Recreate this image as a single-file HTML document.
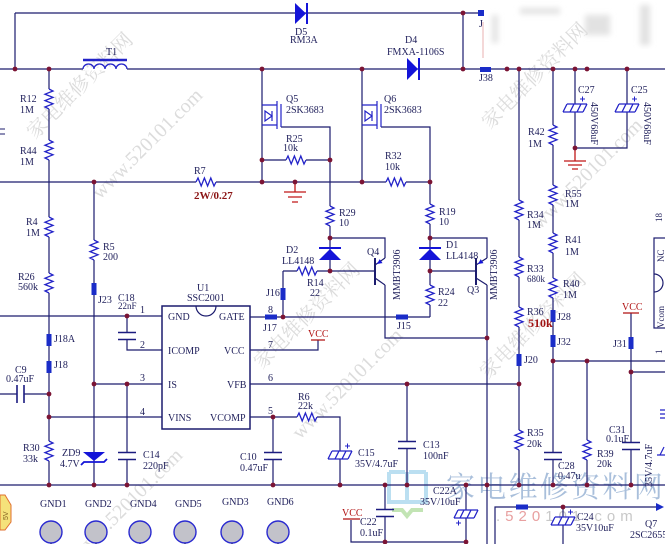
<!DOCTYPE html>
<html><head><meta charset="utf-8"><style>
html,body{margin:0;padding:0;background:#fff;}
svg{display:block}
.w{stroke:#1c1c6e;stroke-width:1.2;fill:none}
.t{font-family:"Liberation Serif",serif;font-size:10px;fill:#1e1e5a}
.r{font-family:"Liberation Serif",serif;font-size:10px;fill:#b01010}
.wm{font-family:"Liberation Serif","Noto Serif CJK SC",serif;font-size:20px;fill:#dcdcdc}
</style></head><body>
<svg width="665" height="544" viewBox="0 0 665 544" xmlns="http://www.w3.org/2000/svg">
<defs>
<g id="rv"><path d="M0,0V20" stroke="#fff" stroke-width="4"/><path d="M0,0l4,2l-8,3.2l8,3.2l-8,3.2l8,3.2l-8,3.2l4,2" fill="none" stroke="#2323c8" stroke-width="1.3"/></g>
<g id="rh"><path d="M0,0H20" stroke="#fff" stroke-width="4"/><path d="M0,0l2,-4l3.2,8l3.2,-8l3.2,8l3.2,-8l3.2,8l2,-4" fill="none" stroke="#2323c8" stroke-width="1.3"/></g>
<g id="cv"><path d="M0,-3.5V3.5" stroke="#fff" stroke-width="4"/><path d="M-9,-3.5H9M-9,3.5H9" stroke="#1c1c80" stroke-width="1.6"/></g>
<g id="ch"><path d="M-3.5,0H3.5" stroke="#fff" stroke-width="4"/><path d="M-3.5,-9V9M3.5,-9V9" stroke="#1c1c80" stroke-width="1.6"/></g>
<g id="ce"><path d="M0,-4V4" stroke="#fff" stroke-width="5"/><path d="M-8,-4H12M-12,4H8M-12,4L-8,-4M-5,4L-1,-4M2,4L6,-4M8,4L12,-4" stroke="#2323c8" stroke-width="1.3" fill="none"/><path d="M5,-9H10M7.5,-11.5V-6.5" stroke="#2323c8" stroke-width="1"/></g>
<rect id="jv" x="-2.5" y="0" width="5" height="12" fill="#1a2cc8"/>
<rect id="jh" x="0" y="-2.5" width="12" height="5" fill="#1a2cc8"/>
<circle id="d" r="2.4" fill="#7b1434"/>
<filter id="bl"><feGaussianBlur stdDeviation="3"/></filter>
</defs>
<rect width="665" height="544" fill="#fff"/>

<!-- faint watermarks -->
<g class="wm">
<text transform="translate(35,140) rotate(-45)">家电维修资料网</text>
<text transform="translate(100,200) rotate(-45)">www.520101.com</text>
<text transform="translate(262,370) rotate(-45)">家电维修资料网</text>
<text transform="translate(300,440) rotate(-45)">www.520101.com</text>
<text transform="translate(490,130) rotate(-45)">家电维修资料网</text>
<text transform="translate(488,380) rotate(-45)">家电维修资料网</text>
<text transform="translate(540,230) rotate(-45)">www.520101.com</text>
<text transform="translate(80,560) rotate(-45)">www.520101.com</text>
</g>

<!-- blurred top-right area -->
<g filter="url(#bl)" fill="#e2e2e2">
<rect x="492" y="15" width="6" height="28"/>
<rect x="520" y="8" width="40" height="6"/>
<rect x="585" y="15" width="25" height="20"/>
<rect x="640" y="5" width="10" height="40"/>
</g>
<path d="M483,22V58" stroke="#eab0b0" stroke-width="1"/>

<!-- big watermark -->
<g opacity="0.9">
<path d="M389,472H405M409,472H426M389,472V502H426V472M407,472V502" stroke="#b4dcf0" stroke-width="4" fill="none"/>
<path d="M392,510H402L407,516L412,510H423" stroke="#bce2ac" stroke-width="4" fill="none"/>
</g>
<text x="446" y="497" style="font-family:'Liberation Serif','Noto Serif CJK SC',serif;font-size:29px;letter-spacing:2.3px;fill:#a9bfdb">家电维修资料网</text>
<text x="496" y="521" style="font-family:'Liberation Sans',sans-serif;font-size:15px;letter-spacing:5px;fill:#c8c8c8">.<tspan fill="#e8a0a0">520</tspan>101.com</text>

<!-- wires -->
<path class="w" d="M15,13H480M15,13V69M0,69H480M491,69H665M463,13V69M49,69V485M0,182H430M94,182V485M262,69V182M362,69V182M262,160H330M281,127H330V271M381,127H430V317M330,238H385V258M283,271H375M283,271V317M250,317H430M385,285V338H487M430,238H487V258M430,271H476M487,285V544M519,69V485M553,69V485M553,361H665M587,361V485M575,69V148M627,69V148H575M631,313V485M631,372H665M94,384H162M250,384H519M127,384V485M49,417H162M0,316H162M127,316V350H162M250,350H318V340M250,417H340V485M273,417V485M407,384V485M0,485H665M0,394H49M351,520V542H466M385,485V542M466,485V542M495,544V507H658M563,507V544"/>
<path d="M0,129H5M0,134H5" stroke="#1c1c6e" stroke-width="1"/>

<!-- T1 -->
<path d="M83,60H127" stroke="#2323c8" stroke-width="2.5"/>
<path d="M83,69H127" stroke="#fff" stroke-width="3"/>
<path d="M83,69a5.5,5 0 0,1 11,0a5.5,5 0 0,1 11,0a5.5,5 0 0,1 11,0a5.5,5 0 0,1 11,0" fill="none" stroke="#2323c8" stroke-width="1.3"/>

<!-- diodes -->
<polygon points="295,3 295,24 306,13.5" fill="#1414d8"/><path d="M307,3V24" stroke="#1414d8" stroke-width="2"/>
<polygon points="407,58 407,80 418,69" fill="#1414d8"/><path d="M419,58V80" stroke="#1414d8" stroke-width="2"/>
<polygon points="319,260 341,260 330,249" fill="#1414d8"/><path d="M319,248H341" stroke="#1414d8" stroke-width="2"/>
<polygon points="419,260 441,260 430,249" fill="#1414d8"/><path d="M419,248H441" stroke="#1414d8" stroke-width="2"/>
<polygon points="83,452 105,452 94,461" fill="#1414d8"/><path d="M81,465L84,462H104L107,459" stroke="#1414d8" stroke-width="1.8" fill="none"/>

<!-- MOSFETs -->
<g stroke="#2323c8" stroke-width="1.2" fill="none">
<path d="M262,105H277M262,125H277M277,101V129M281,104V127M265,111L272,116L265,121ZM272,111V121"/>
<path d="M362,105H377M362,125H377M377,101V129M381,104V127M365,111L372,116L365,121ZM372,111V121"/>
</g>

<!-- BJTs -->
<g stroke="#1c1c6e" stroke-width="1.2" fill="none">
<path d="M375,258V285" stroke-width="2"/><path d="M375,265L385,258M375,278L385,285"/>
<path d="M476,258V285" stroke-width="2"/><path d="M476,265L487,258M476,278L487,285"/>
</g>
<polygon points="377,264 382.5,263.1 379.7,259.1" fill="#1414d8"/>
<polygon points="478,264 483.5,263.1 480.7,259.1" fill="#1414d8"/>

<!-- resistors -->
<use href="#rv" x="49" y="89"/><use href="#rv" x="49" y="140"/><use href="#rv" x="49" y="217"/><use href="#rv" x="49" y="273"/><use href="#rv" x="49" y="441"/>
<use href="#rv" x="94" y="240"/><use href="#rv" x="330" y="206"/><use href="#rv" x="430" y="204"/><use href="#rv" x="430" y="285"/>
<use href="#rv" x="519" y="200"/><use href="#rv" x="519" y="257"/><use href="#rv" x="519" y="307"/><use href="#rv" x="519" y="430"/>
<use href="#rv" x="553" y="125"/><use href="#rv" x="553" y="185"/><use href="#rv" x="553" y="233"/><use href="#rv" x="553" y="278"/><use href="#rv" x="587" y="440"/>
<use href="#rh" x="196" y="182"/><use href="#rh" x="286" y="160"/><use href="#rh" x="386" y="182"/><use href="#rh" x="297" y="271"/><use href="#rh" x="297" y="417"/>

<!-- capacitors -->
<use href="#cv" x="127" y="336"/><use href="#cv" x="127" y="456"/><use href="#cv" x="273" y="456"/><use href="#cv" x="407" y="445"/>
<use href="#cv" x="553" y="456"/><use href="#cv" x="631" y="446"/><use href="#cv" x="385" y="513"/>
<use href="#ch" x="20.5" y="394"/>
<use href="#ce" x="575" y="108"/><use href="#ce" x="627" y="108"/><use href="#ce" x="340" y="455"/><use href="#ce" x="563" y="521"/>
<use href="#ce" transform="translate(466,514) rotate(180)"/>
<path d="M660,455L664,447M657,455H665" stroke="#2323c8" stroke-width="1.2"/>
<path d="M660,410H665M660,414H665M660,418H665" stroke="#2323c8" stroke-width="1.2"/>

<!-- jumpers -->
<rect x="478" y="10" width="6" height="6" fill="#1a2cc8"/>
<rect x="480" y="67" width="11" height="5" fill="#1a2cc8"/>
<use href="#jv" x="49" y="334"/><use href="#jv" x="49" y="361"/><use href="#jv" x="94" y="283"/><use href="#jv" x="283" y="288"/>
<use href="#jv" x="519" y="354"/><use href="#jv" x="553" y="310"/><use href="#jv" x="553" y="335"/><use href="#jv" x="631" y="337"/>
<use href="#jh" x="265" y="317"/><use href="#jh" x="396" y="317"/><use href="#jh" x="516" y="507"/>
<polygon points="656,503 664,507 656,511" fill="#1a2cc8"/>

<!-- grounds -->
<path d="M295,182V192M284,192H306M288,197H302M292,202H298" stroke="#c01818" stroke-width="1.3" fill="none"/>
<path d="M575,148V161M564,161H586M568,165H582M572,169H578" stroke="#c01818" stroke-width="1.3" fill="none"/>

<!-- VCC -->
<path d="M311,340H325M623,313H639M343,519H360" stroke="#b01010" stroke-width="1.3"/>
<text class="r" x="308" y="337">VCC</text>
<text class="r" x="622" y="310">VCC</text>
<text class="r" x="342" y="516">VCC</text>

<!-- U1 -->
<rect x="162" y="306" width="88" height="123" fill="none" stroke="#1c1c6e" stroke-width="1.5"/>
<path d="M196,306A10,10 0 0,0 216,306" fill="none" stroke="#1c1c6e" stroke-width="1.2"/>
<g class="t">
<text x="168" y="320">GND</text><text x="219" y="320">GATE</text>
<text x="168" y="354">ICOMP</text><text x="224" y="354">VCC</text>
<text x="168" y="388">IS</text><text x="227" y="388">VFB</text>
<text x="168" y="421">VINS</text><text x="210" y="421">VCOMP</text>
<text x="140" y="313">1</text><text x="140" y="348">2</text><text x="140" y="381">3</text><text x="140" y="415">4</text>
<text x="268" y="313">8</text><text x="268" y="348">7</text><text x="268" y="381">6</text><text x="268" y="414">5</text>
<text x="197" y="291">U1</text><text x="187" y="301">SSC2001</text>
</g>

<!-- right box -->
<rect x="654" y="238" width="20" height="90" fill="none" stroke="#1c1c6e" stroke-width="1.2"/>
<path d="M654,274A9,9 0 0,1 654,292" fill="none" stroke="#1c1c6e" stroke-width="1.2"/>
<g class="t" style="font-size:9px">
<text transform="translate(664,262) rotate(-90)">NC</text>
<text transform="translate(664,328) rotate(-90)">Vcom</text>
<text transform="translate(662,222) rotate(-90)">18</text>
<text transform="translate(662,354) rotate(-90)">1</text>
</g>

<!-- dots -->
<g>
<use href="#d" x="15" y="69"/><use href="#d" x="49" y="69"/><use href="#d" x="463" y="13"/><use href="#d" x="463" y="69"/>
<use href="#d" x="262" y="69"/><use href="#d" x="362" y="69"/><use href="#d" x="507" y="69"/><use href="#d" x="519" y="69"/><use href="#d" x="553" y="69"/><use href="#d" x="575" y="69"/><use href="#d" x="587" y="69"/><use href="#d" x="627" y="69"/>
<use href="#d" x="575" y="148"/>
<use href="#d" x="94" y="182"/><use href="#d" x="262" y="160"/><use href="#d" x="330" y="160"/><use href="#d" x="262" y="182"/><use href="#d" x="295" y="182"/><use href="#d" x="362" y="182"/><use href="#d" x="430" y="182"/>
<use href="#d" x="330" y="238"/><use href="#d" x="330" y="271"/><use href="#d" x="430" y="238"/><use href="#d" x="430" y="271"/>
<use href="#d" x="283" y="317"/><use href="#d" x="487" y="338"/>
<use href="#d" x="127" y="316"/><use href="#d" x="49" y="394"/><use href="#d" x="49" y="417"/><use href="#d" x="94" y="384"/><use href="#d" x="127" y="384"/>
<use href="#d" x="273" y="417"/><use href="#d" x="407" y="384"/><use href="#d" x="519" y="384"/>
<use href="#d" x="553" y="361"/><use href="#d" x="587" y="361"/><use href="#d" x="631" y="372"/>
<use href="#d" x="49" y="485"/><use href="#d" x="94" y="485"/><use href="#d" x="127" y="485"/><use href="#d" x="273" y="485"/><use href="#d" x="340" y="485"/><use href="#d" x="385" y="485"/><use href="#d" x="407" y="485"/><use href="#d" x="466" y="485"/><use href="#d" x="487" y="485"/><use href="#d" x="519" y="485"/><use href="#d" x="553" y="485"/><use href="#d" x="587" y="485"/><use href="#d" x="631" y="485"/>
<use href="#d" x="385" y="542"/><use href="#d" x="466" y="542"/><use href="#d" x="563" y="507"/>
</g>

<!-- GND pads -->
<g fill="#c2c2ca" stroke="#2a2ad0" stroke-width="1.4">
<circle cx="51" cy="532" r="11"/><circle cx="96" cy="532" r="11"/><circle cx="140" cy="532" r="11"/><circle cx="185" cy="532" r="11"/><circle cx="232" cy="532" r="11"/><circle cx="278" cy="532" r="11"/>
</g>
<path d="M51,543V544M96,543V544M140,543V544M185,543V544M232,543V544M278,543V544" stroke="#1c1c6e"/>

<!-- bottom-left yellow element -->
<polygon points="0,495 5,495 11,505 11,522 5,530 0,530" fill="#f5e27a" stroke="#e07030" stroke-width="1"/>
<text transform="translate(8,520) rotate(-90)" style="font-family:'Liberation Sans',sans-serif;font-size:7px;fill:#806020">5V</text>

<!-- labels -->
<g class="t">
<text x="106" y="55">T1</text>
<text x="20" y="102">R12</text><text x="20" y="113">1M</text>
<text x="20" y="154">R44</text><text x="20" y="165">1M</text>
<text x="194" y="174">R7</text>
<text x="295" y="35">D5</text><text x="290" y="43">RM3A</text>
<text x="405" y="43">D4</text><text x="387" y="55">FMXA-1106S</text>
<text x="286" y="102">Q5</text><text x="286" y="113">2SK3683</text>
<text x="286" y="142">R25</text><text x="283" y="151">10k</text>
<text x="384" y="102">Q6</text><text x="384" y="113">2SK3683</text>
<text x="385" y="159">R32</text><text x="385" y="170">10k</text>
<text x="479" y="27">J</text><text x="479" y="81">J38</text>
<text x="578" y="93">C27</text><text x="631" y="93">C25</text>
<text x="528" y="135">R42</text><text x="528" y="147">1M</text>
<text x="565" y="197">R55</text><text x="565" y="207">1M</text>
<text x="527" y="218">R34</text><text x="527" y="228">1M</text>
<text x="565" y="243">R41</text><text x="565" y="255">1M</text>
<text x="527" y="272">R33</text><text x="527" y="282" style="font-size:9px">680k</text>
<text x="563" y="287">R40</text><text x="563" y="298">1M</text>
<text x="527" y="315">R36</text>
<text x="557" y="320">J28</text><text x="557" y="345">J32</text>
<text x="524" y="363">J20</text><text x="613" y="347">J31</text>
<text x="26" y="225">R4</text><text x="26" y="236">1M</text>
<text x="18" y="280">R26</text><text x="18" y="290">560k</text>
<text x="103" y="250">R5</text><text x="103" y="260">200</text>
<text x="98" y="303">J23</text>
<text x="118" y="301">C18</text><text x="118" y="309" style="font-size:9px">22nF</text>
<text x="54" y="342">J18A</text><text x="54" y="368">J18</text>
<text x="15" y="373">C9</text><text x="6" y="382">0.47uF</text>
<text x="23" y="451">R30</text><text x="23" y="462">33k</text>
<text x="62" y="456">ZD9</text><text x="60" y="467">4.7V</text>
<text x="143" y="458">C14</text><text x="143" y="469">220pF</text>
<text x="40" y="507">GND1</text><text x="85" y="507">GND2</text><text x="130" y="507">GND4</text><text x="175" y="507">GND5</text><text x="222" y="505">GND3</text><text x="267" y="505">GND6</text>
<text x="263" y="331">J17</text><text x="266" y="296">J16</text>
<text x="307" y="286">R14</text><text x="310" y="296">22</text>
<text x="286" y="253">D2</text><text x="282" y="264">LL4148</text>
<text x="367" y="255">Q4</text>
<text x="339" y="216">R29</text><text x="339" y="226">10</text>
<text x="439" y="215">R19</text><text x="439" y="225">10</text>
<text x="446" y="248">D1</text><text x="446" y="259">LL4148</text>
<text x="438" y="295">R24</text><text x="438" y="306">22</text>
<text x="397" y="329">J15</text>
<text x="467" y="293">Q3</text>
<text x="298" y="400">R6</text><text x="298" y="409">22k</text>
<text x="240" y="460">C10</text><text x="240" y="471">0.47uF</text>
<text x="358" y="456">C15</text><text x="355" y="467">35V/4.7uF</text>
<text x="423" y="448">C13</text><text x="423" y="459">100nF</text>
<text x="433" y="494">C22A</text><text x="420" y="505">35V/10uF</text>
<text x="360" y="525">C22</text><text x="360" y="536">0.1uF</text>
<text x="527" y="436">R35</text><text x="527" y="447">20k</text>
<text x="558" y="469">C28</text><text x="558" y="479">0.47u</text>
<text x="597" y="457">R39</text><text x="597" y="467">20k</text>
<text x="609" y="433">C31</text><text x="606" y="442">0.1uF</text>
<text x="577" y="520">C24</text><text x="576" y="531">35V10uF</text>
<text x="645" y="527">Q7</text><text x="630" y="538">2SC2655</text>
<text transform="translate(591,102) rotate(90)">450V68uF</text>
<text transform="translate(644,102) rotate(90)">450V68uF</text>
<text transform="translate(400,300) rotate(-90)">MMBT3906</text>
<text transform="translate(497,300) rotate(-90)">MMBT3906</text>
<text transform="translate(652,487) rotate(-90)">35V/4.7uF</text>
</g>
<text x="194" y="199" style="font-family:'Liberation Serif',serif;font-size:11px;font-weight:bold;fill:#8b1414">2W/0.27</text>
<text x="528" y="327" style="font-family:'Liberation Serif',serif;font-size:12px;font-weight:bold;fill:#a01414">510k</text>
</svg>
</body></html>
